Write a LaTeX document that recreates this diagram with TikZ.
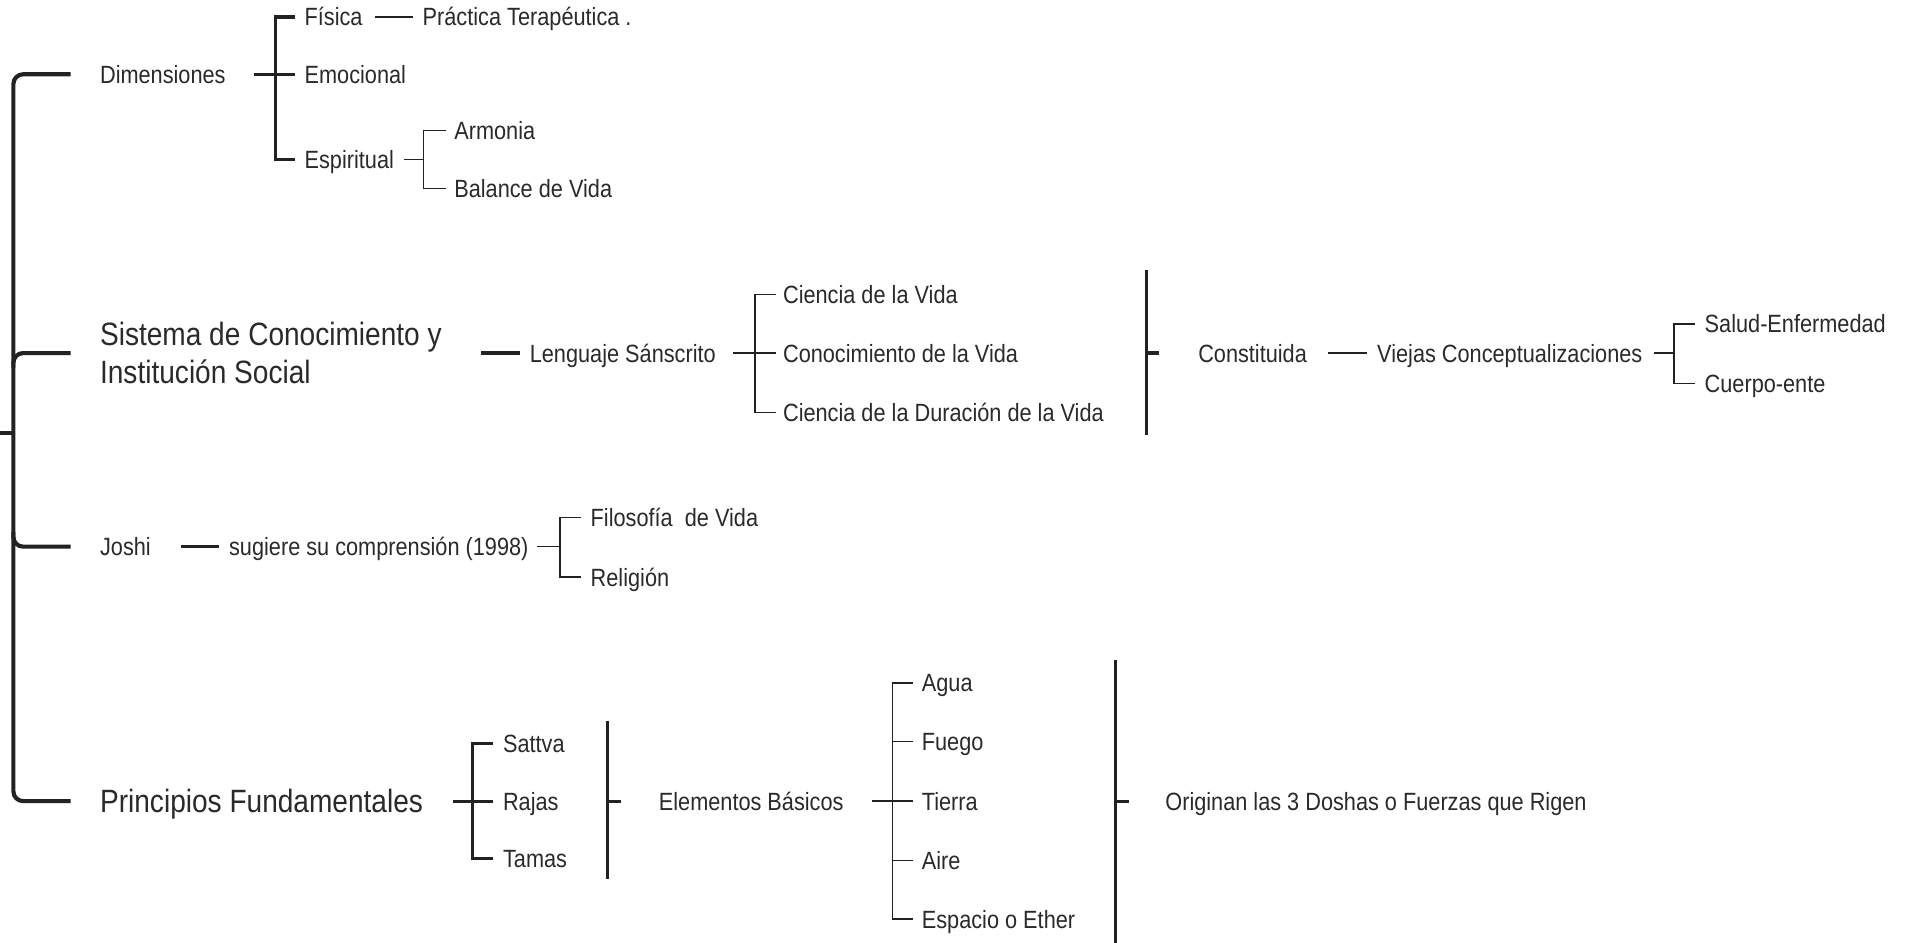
\documentclass[tikz,border=0pt]{standalone}
\usepackage{fontspec}
\setmainfont{Liberation Sans}[FakeStretch=0.87]
\definecolor{ln}{HTML}{222222}
\definecolor{tx}{HTML}{2a2a2a}
\begin{document}
\begin{tikzpicture}[x=1pt,y=-1pt,
  sm/.style={anchor=west,inner sep=0pt,font=\fontsize{20.5}{24}\selectfont,text height=14.7pt,text depth=0pt,text=tx},
  lg/.style={anchor=west,inner sep=0pt,font=\fontsize{26.5}{31}\selectfont,text height=19pt,text depth=0pt,text=tx},
  lgtwo/.style={anchor=west,inner sep=0pt,font=\fontsize{26.5}{31}\selectfont,align=left,text=tx},
  thk/.style={draw=ln,line width=2.6pt},
  mid/.style={draw=ln,line width=2pt},
  thn/.style={draw=ln,line width=1.2pt},
  rootln/.style={draw=ln,line width=3.4pt,rounded corners=8pt}]
\useasboundingbox (0,0) rectangle (1568,774);

% level 1
\node[sm] (dim) at (82,61) {Dimensiones};
\node[lgtwo] (sis) at (82,290) {Sistema de Conocimiento y\\Institución Social};
\node[sm] (jos) at (82,449) {Joshi};
\node[lg] (pri) at (82,658) {Principios Fundamentales};

% Dimensiones subtree
\node[sm] (fis) at (250,14) {Física};
\node[sm] (emo) at (250,61) {Emocional};
\node[sm] (esp) at (250,131) {Espiritual};
\node[sm] (pra) at (347,14) {Práctica Terapéutica .};
\node[sm] (arm) at (373,107) {Armonia};
\node[sm] (bal) at (373,155) {Balance de Vida};

% Sistema subtree
\node[sm] (len) at (435,290) {Lenguaje Sánscrito};
\node[sm] (cv) at (643,242) {Ciencia de la Vida};
\node[sm] (kv) at (643,290) {Conocimiento de la Vida};
\node[sm] (cd) at (643,339) {Ciencia de la Duración de la Vida};
\node[sm] (con) at (984,290) {Constituida};
\node[sm] (vie) at (1131,290) {Viejas Conceptualizaciones};
\node[sm] (sal) at (1400,266) {Salud-Enfermedad};
\node[sm] (cue) at (1400,315) {Cuerpo-ente};

% Joshi subtree
\node[sm] (sug) at (188,449) {sugiere su comprensión (1998)};
\node[sm] (fil) at (485,425) {Filosofía\ \ de Vida};
\node[sm] (rel) at (485,474) {Religión};

% Principios subtree
\node[sm] (sat) at (413,611) {Sattva};
\node[sm] (raj) at (413,658) {Rajas};
\node[sm] (tam) at (413,705) {Tamas};
\node[sm] (ele) at (541,658) {Elementos Básicos};
\node[sm] (agu) at (757,561) {Agua};
\node[sm] (fue) at (757,609) {Fuego};
\node[sm] (tie) at (757,658) {Tierra};
\node[sm] (air) at (757,707) {Aire};
\node[sm] (eth) at (757,755) {Espacio o Ether};
\node[sm] (ori) at (957,658) {Originan las 3 Doshas o Fuerzas que Rigen};

% root bracket
\coordinate (rootin) at (0,356);
\coordinate (rt) at (11,356);
\draw[rootln] ([xshift=-24pt]dim.west) -| (rt) |- ([xshift=-24pt]pri.west);
\draw[rootln] ([xshift=-24pt]sis.west) -| ([yshift=-12pt]rt |- sis.west);
\draw[rootln] ([xshift=-24pt]jos.west) -| ([yshift=12pt]rt |- jos.west);
\draw[rootln] (rootin) -- (rt);

% Dimensiones
\coordinate (dj) at ([xshift=-24pt]emo.west);
\draw[thk] ([xshift=23pt]dim.east) -- ([xshift=-8pt]emo.west);
\draw[thk] ([xshift=-8pt]fis.west) -| (dj) |- ([xshift=-8pt]esp.west);
\draw[thn] ([xshift=10pt]fis.east) -- ([xshift=-8pt]pra.west);
\coordinate (ej) at ([xshift=-25pt]arm.west |- esp.west);
\draw[thn] ([xshift=8pt]esp.east) -- (ej);
\draw[thn] ([xshift=-7pt]arm.west) -| (ej) |- ([xshift=-7pt]bal.west);

% Sistema
\draw[thk] ([xshift=32pt]sis.east) -- ([xshift=-8pt]len.west);
\coordinate (lj) at ([xshift=-23pt]kv.west);
\draw[thn] ([xshift=14pt]len.east) -- ([xshift=-6pt]kv.west);
\draw[thn] ([xshift=-6pt]cv.west) -| (lj) |- ([xshift=-6pt]cd.west);
\draw[thk] ([xshift=-42pt,yshift=68pt]con.west) -- ([xshift=-42pt,yshift=-67pt]con.west);
\draw[thk] ([xshift=-43pt]con.west) -- ([xshift=-32pt]con.west);
\draw[thn] ([xshift=17pt]con.east) -- ([xshift=-8pt]vie.west);
\coordinate (vj) at ([xshift=-25pt]sal.west |- vie.west);
\draw[thn] ([xshift=9pt]vie.east) -- (vj);
\draw[thn] ([xshift=-8pt]sal.west) -| (vj) |- ([xshift=-8pt]cue.west);

% Joshi
\draw[thk] ([xshift=25pt]jos.east) -- ([xshift=-8pt]sug.west);
\coordinate (sj) at ([xshift=-25pt]fil.west |- sug.west);
\draw[thn] ([xshift=7pt]sug.east) -- (sj);
\draw[thn] ([xshift=-8pt]fil.west) -| (sj) |- ([xshift=-8pt]rel.west);

% Principios
\coordinate (pj) at ([xshift=-25pt]raj.west);
\draw[thk] ([xshift=24pt]pri.east) -- ([xshift=-8pt]raj.west);
\draw[thk] ([xshift=-8pt]sat.west) -| (pj) |- ([xshift=-8pt]tam.west);
\draw[mid] ([xshift=-42pt,yshift=66pt]ele.west) -- ([xshift=-42pt,yshift=-64pt]ele.west);
\draw[thk] ([xshift=-43pt]ele.west) -- ([xshift=-31pt]ele.west);
\coordinate (tj) at ([xshift=-24pt]tie.west);
\draw[thn] ([xshift=23pt]ele.east) -- ([xshift=-7pt]tie.west);
\draw[thn] ([xshift=-7pt]agu.west) -| (tj) |- ([xshift=-7pt]eth.west);
\draw[thn] ([xshift=-7pt]fue.west) -- (fue.west -| tj);
\draw[thn] ([xshift=-7pt]air.west) -- (air.west -| tj);
\draw[thk] ([xshift=-41pt,yshift=116pt]ori.west) -- ([xshift=-41pt,yshift=-118pt]ori.west);
\draw[thk] ([xshift=-42pt]ori.west) -- ([xshift=-30pt]ori.west);
\end{tikzpicture}
\end{document}
